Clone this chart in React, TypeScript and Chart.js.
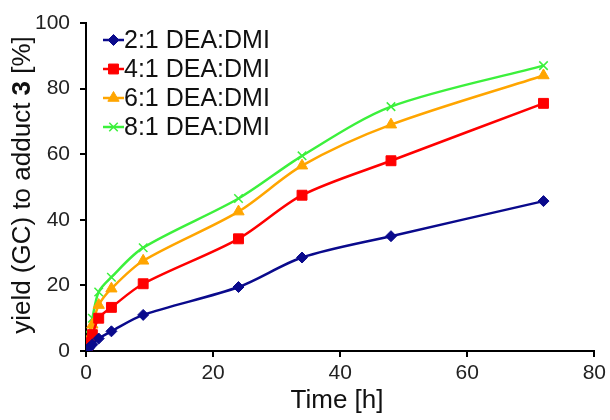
import React, { useEffect, useRef } from "react";
import { Chart, registerables } from "chart.js";
import { drawPoint } from "chart.js/helpers";

Chart.register(...registerables);

const times = [0, 0.25, 0.5, 1, 2, 4, 9, 24, 34, 48, 72];
const series21 = [0, 0.5, 1, 2, 3.8, 6, 11, 19.5, 28.5, 35, 45.7];
const series41 = [0, 1, 2.5, 5, 10, 13.3, 20.5, 34.2, 47.5, 58, 75.5];
const series61 = [0, 1.5, 4, 8, 14, 19, 27.5, 42.5, 56.5, 69, 84];
const series81 = [0, 2, 5, 10, 18, 22.5, 31.5, 46.5, 59.5, 74.5, 87];
const seriesLabels = ["2:1 DEA:DMI", "4:1 DEA:DMI", "6:1 DEA:DMI", "8:1 DEA:DMI"];
const xTicks = [0, 20, 40, 60, 80];
const yTicks = [0, 20, 40, 60, 80, 100];

const FONT = "'Liberation Sans', Arial, sans-serif";

const styles = [
  { color: "#0a0a8c", pointStyle: "rectRot", radius: 5.5 },
  { color: "#ff0000", pointStyle: "rect", radius: 7 },
  { color: "#ffa500", pointStyle: "triangle", radius: 6.5 },
  { color: "#3cf03c", pointStyle: "crossRot", radius: 6 },
];

const overlay = {
  id: "overlay",
  afterDraw(chart: any) {
    const ctx = chart.ctx;
    ctx.save();
    // legend
    const rowY = [40, 69, 98, 127];
    chart.data.datasets.forEach((ds: any, i: number) => {
      const y = rowY[i];
      const st = styles[i];
      ctx.strokeStyle = st.color;
      ctx.lineWidth = 2.5;
      ctx.beginPath();
      ctx.moveTo(103, y);
      ctx.lineTo(124, y);
      ctx.stroke();
      ctx.fillStyle = st.color;
      ctx.strokeStyle = st.color;
      ctx.lineWidth = st.pointStyle === "crossRot" ? 1.5 : 1;
      drawPoint(ctx, { pointStyle: st.pointStyle, radius: st.radius, rotation: 0, borderWidth: 1 } as any, 113.5, y);
      ctx.fillStyle = "#111";
      ctx.font = `25px ${FONT}`;
      ctx.textBaseline = "middle";
      ctx.textAlign = "left";
      ctx.fillText(seriesLabels[i], 124, y + 1);
    });
    // x title
    ctx.fillStyle = "#111";
    ctx.font = `26px ${FONT}`;
    ctx.textAlign = "center";
    ctx.textBaseline = "middle";
    ctx.fillText("Time [h]", 337, 401);
    // y title with bold 3
    ctx.translate(23, 185);
    ctx.rotate(-Math.PI / 2);
    const parts = [
      { t: "yield (GC) to adduct ", f: `26px ${FONT}` },
      { t: "3", f: `bold 26px ${FONT}` },
      { t: " [%]", f: `26px ${FONT}` },
    ];
    let total = 0;
    parts.forEach((p) => {
      ctx.font = p.f;
      total += ctx.measureText(p.t).width;
    });
    let x = -total / 2;
    ctx.textAlign = "left";
    parts.forEach((p) => {
      ctx.font = p.f;
      ctx.fillText(p.t, x, 0);
      x += ctx.measureText(p.t).width;
    });
    ctx.restore();
  },
};

export default function App() {
  const ref = useRef<HTMLCanvasElement>(null);
  useEffect(() => {
    if (!ref.current) return;
    const all = [series21, series41, series61, series81];
    const chart = new Chart(ref.current, {
      type: "line",
      data: {
        datasets: all.map((vals, i) => ({
          label: seriesLabels[i],
          data: times.map((t, j) => ({ x: t, y: vals[j] })),
          borderColor: styles[i].color,
          backgroundColor: styles[i].color,
          pointBorderColor: styles[i].color,
          pointBackgroundColor: styles[i].color,
          pointStyle: styles[i].pointStyle as any,
          pointRadius: styles[i].radius,
          pointBorderWidth: styles[i].pointStyle === "crossRot" ? 1.5 : 1,
          borderWidth: 2.5,
          tension: 0.3,
          fill: false,
        })),
      },
      options: {
        responsive: false,
        animation: false,
        layout: { padding: { left: 0, right: 13, top: 23, bottom: 0 } },
        plugins: { legend: { display: false }, tooltip: { enabled: false } },
        scales: {
          x: {
            type: "linear",
            min: 0,
            max: 80,
            afterBuildTicks: (s: any) => {
              s.ticks = xTicks.map((v) => ({ value: v }));
            },
            afterFit: (s: any) => {
              s.height = 69;
            },
            border: { display: true, color: "#000", width: 2 },
            grid: { display: true, drawOnChartArea: false, drawTicks: true, tickLength: 6, color: "#000", lineWidth: 2 },
            ticks: { color: "#222", font: { family: FONT, size: 21 }, padding: 4, maxRotation: 0 },
          },
          y: {
            type: "linear",
            min: 0,
            max: 100,
            afterBuildTicks: (s: any) => {
              s.ticks = yTicks.map((v) => ({ value: v }));
            },
            afterFit: (s: any) => {
              s.width = 86;
            },
            border: { display: true, color: "#000", width: 2 },
            grid: { display: true, drawOnChartArea: false, drawTicks: true, tickLength: 6, color: "#000", lineWidth: 2 },
            ticks: { color: "#222", font: { family: FONT, size: 21 }, padding: 10 },
          },
        },
      },
      plugins: [overlay],
    });
    return () => chart.destroy();
  }, []);
  return (
    <div style={{ position: "fixed", left: 0, top: 0, width: 610, height: 420, background: "#fff" }}>
      <canvas ref={ref} width={610} height={420} />
    </div>
  );
}
